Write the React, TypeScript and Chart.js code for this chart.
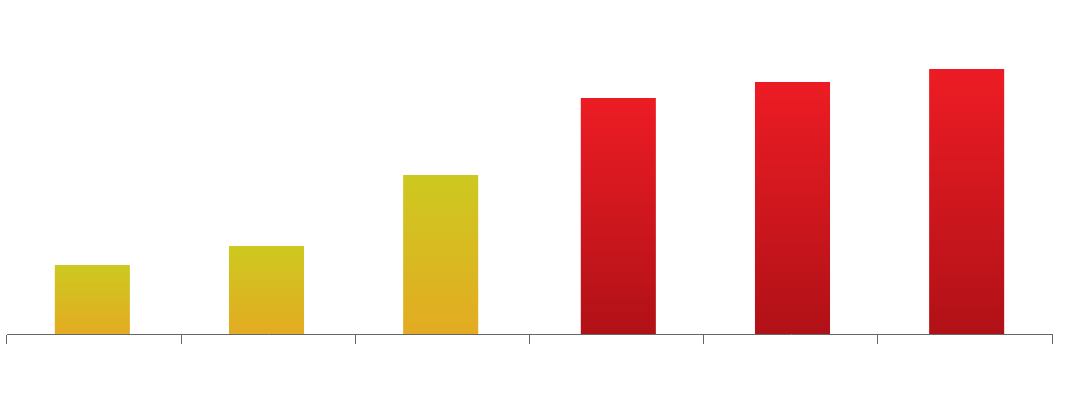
import React, { useEffect, useRef } from "react";
import { Chart, registerables } from "chart.js";

Chart.register(...registerables);

const categories = ["1", "2", "3", "4", "5", "6"];
const yellowValues = [69, 88, 159, null, null, null];
const redValues = [null, null, null, 236, 252, 265];
const yMax = 334;

const yellowStops: [string, string] = ["#cdc920", "#e3ab22"];
const redStops: [string, string] = ["#ed1c24", "#b01117"];

function makeGradient(stops: [string, string], vals: (number | null)[]) {
  return (ctx: any) => {
    const c = ctx.chart;
    const y = c.scales?.y;
    const i = ctx.dataIndex;
    const v = vals[i];
    if (!y || i === undefined || v == null) return stops[0];
    const top = y.getPixelForValue(v);
    const bottom = y.getPixelForValue(0);
    if (!isFinite(top) || !isFinite(bottom)) return stops[0];
    const g = c.ctx.createLinearGradient(0, top, 0, bottom);
    g.addColorStop(0, stops[0]);
    g.addColorStop(1, stops[1]);
    return g;
  };
}

export default function App() {
  const ref = useRef<HTMLCanvasElement | null>(null);
  useEffect(() => {
    if (!ref.current) return;
    const chart = new Chart(ref.current, {
      type: "bar",
      data: {
        labels: categories,
        datasets: [
          {
            data: yellowValues,
            borderWidth: 0,
            categoryPercentage: 0.04,
            barPercentage: 21.55,
            backgroundColor: makeGradient(yellowStops, yellowValues),
          },
          {
            data: redValues,
            borderWidth: 0,
            categoryPercentage: 0.04,
            barPercentage: 21.55,
            backgroundColor: makeGradient(redStops, redValues),
          },
        ],
      },
      options: {
        animation: false,
        responsive: false,
        maintainAspectRatio: false,
        layout: { padding: { left: 7, right: 14, top: 0, bottom: 52 } },
        plugins: { legend: { display: false }, tooltip: { enabled: false } },
        scales: {
          x: {
            grid: {
              display: true,
              drawOnChartArea: false,
              drawTicks: true,
              tickLength: 10,
              color: "#666666",
              offset: true,
            },
            border: { display: true, color: "#666666", width: 1 },
            ticks: { display: false },
          },
          y: { display: false, min: 0, max: yMax },
        },
      },
    });
    return () => chart.destroy();
  }, []);
  return (
    <div style={{ position: "fixed", left: 0, top: 0, width: 1066, height: 396, background: "#fff" }}>
      <canvas ref={ref} width={1066} height={396} style={{ width: 1066, height: 396 }} />
    </div>
  );
}
